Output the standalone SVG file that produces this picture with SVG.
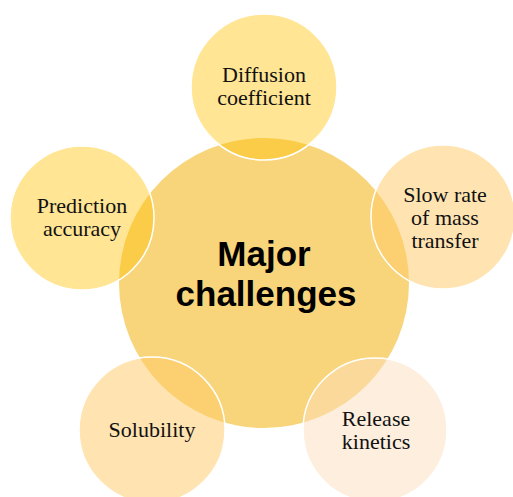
<svg xmlns="http://www.w3.org/2000/svg" width="513" height="497" viewBox="0 0 513 497">
<style>
.sat{stroke:#ffffff;stroke-width:1.5}
.t{font-family:"Liberation Serif","Times New Roman",serif;font-size:22px;fill:#111111;text-anchor:middle}
.m{font-family:"Liberation Sans",Arial,sans-serif;font-weight:bold;font-size:35px;fill:#000000;text-anchor:middle}
</style>
<rect width="513" height="497" fill="#ffffff"/>
<g id="center">
<circle cx="264" cy="283" r="145" fill="#F8D57A"/>
<text class="m" x="264" y="266">Major</text>
<text class="m" x="266" y="306">challenges</text>
</g>
<g id="diffusion">
<circle class="sat" cx="264" cy="87" r="73" fill="#FFC000" fill-opacity="0.42"/>
<text class="t" x="264" y="82">Diffusion</text>
<text class="t" x="264" y="105">coefficient</text>
</g>
<g id="slow-rate">
<circle class="sat" cx="443" cy="217" r="72" fill="#FFC966" fill-opacity="0.5"/>
<text class="t" x="445" y="202">Slow rate</text>
<text class="t" x="445" y="225">of mass</text>
<text class="t" x="445" y="248">transfer</text>
</g>
<g id="prediction">
<circle class="sat" cx="82" cy="218" r="72" fill="#FFC000" fill-opacity="0.42"/>
<text class="t" x="82" y="213">Prediction</text>
<text class="t" x="82" y="236">accuracy</text>
</g>
<g id="solubility">
<circle class="sat" cx="152" cy="430" r="73" fill="#FFC966" fill-opacity="0.5"/>
<text class="t" x="152" y="437">Solubility</text>
</g>
<g id="release">
<circle class="sat" cx="375" cy="430" r="72" fill="#FCDEBB" fill-opacity="0.5"/>
<text class="t" x="376" y="426">Release</text>
<text class="t" x="376" y="449">kinetics</text>
</g>
<g id="connectors"></g>
</svg>
